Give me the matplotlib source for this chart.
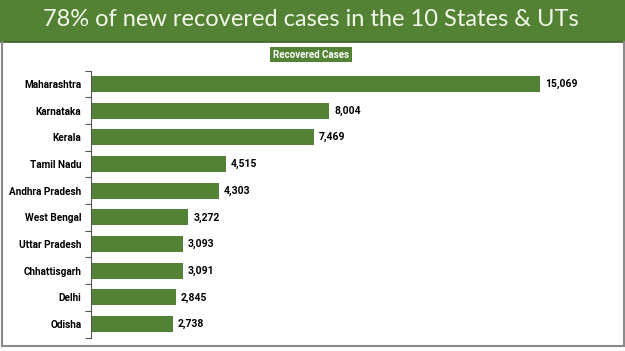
import matplotlib
matplotlib.use("Agg")
import matplotlib.pyplot as plt
from matplotlib.patches import Rectangle
from matplotlib.lines import Line2D

states = ["Maharashtra", "Karnataka", "Kerala", "Tamil Nadu", "Andhra Pradesh",
          "West Bengal", "Uttar Pradesh", "Chhattisgarh", "Delhi", "Odisha"]
recovered = [15069, 8004, 7469, 4515, 4303, 3272, 3093, 3091, 2845, 2738]
title = "78% of new recovered cases in the 10 States & UTs"
series_label = "Recovered Cases"

GREEN = "#548235"
W, H = 625, 351
fig = plt.figure(figsize=(W / 100, H / 100), dpi=100)
fig.patch.set_facecolor("white")

# header band
fig.patches.append(Rectangle((0, 1 - 42 / H), 1, 42 / H, transform=fig.transFigure,
                             facecolor=GREEN, edgecolor="none", zorder=0))
fig.lines.append(Line2D([0, 1], [1 - 42 / H, 1 - 42 / H], transform=fig.transFigure,
                        color="#3d5f27", lw=1.2))
fig.text(311 / W, 1 - 20 / H, title, ha="center", va="center", color="#f2f7ea",
         fontsize=17, family=["Lato", "DejaVu Sans"])

# frame
gray = "#8a8a8a"
fig.lines.append(Line2D([2 / W, 2 / W], [1 - 42 / H, 1 - 345.5 / H], transform=fig.transFigure, color=gray, lw=1.5))
fig.lines.append(Line2D([623.5 / W, 623.5 / W], [1 - 42 / H, 1 - 345.5 / H], transform=fig.transFigure, color=gray, lw=1.5))
fig.lines.append(Line2D([2 / W, 623.5 / W], [1 - 345.5 / H, 1 - 345.5 / H], transform=fig.transFigure, color=gray, lw=1.5))

LABEL_FONT = ["Roboto", "DejaVu Sans"]

# series label box
fig.text(311 / W, 1 - 54.5 / H, series_label, ha="center", va="center", color="white",
         fontsize=7, fontweight="bold", family=LABEL_FONT,
         bbox=dict(boxstyle="square,pad=0.3", facecolor=GREEN, edgecolor="none"))

left, right = 91 / W, 600 / W
top, bottom = 1 - 70.5 / H, 1 - 337.5 / H
ax = fig.add_axes([left, bottom, right - left, top - bottom])
ypos = list(range(len(states)))
ax.barh(ypos, recovered, height=0.6, color=GREEN)
ax.set_ylim(len(states) - 0.5, -0.5)
ax.set_xlim(0, 15069 * (600 - 91) / (540 - 91))

for s in ["top", "right", "bottom"]:
    ax.spines[s].set_visible(False)
ax.spines["left"].set_color("#555555")
ax.spines["left"].set_linewidth(0.8)
ax.set_xticks([])
ax.set_yticks(ypos)
ax.set_yticklabels(states, fontsize=7.2, fontweight="bold", family=LABEL_FONT)
ax.tick_params(axis="y", which="major", length=0, pad=7)
ax.set_yticks([i - 0.5 for i in range(len(states) + 1)], minor=True)
ax.tick_params(axis="y", which="minor", length=4, width=0.8, color="#555555")

for y, v in zip(ypos, recovered):
    ax.annotate(f"{v:,}", (v, y), xytext=(3.5, 0), textcoords="offset points",
                ha="left", va="center", fontsize=7.5, fontweight="bold",
                family=LABEL_FONT)

fig.savefig("out.png", dpi=100)
